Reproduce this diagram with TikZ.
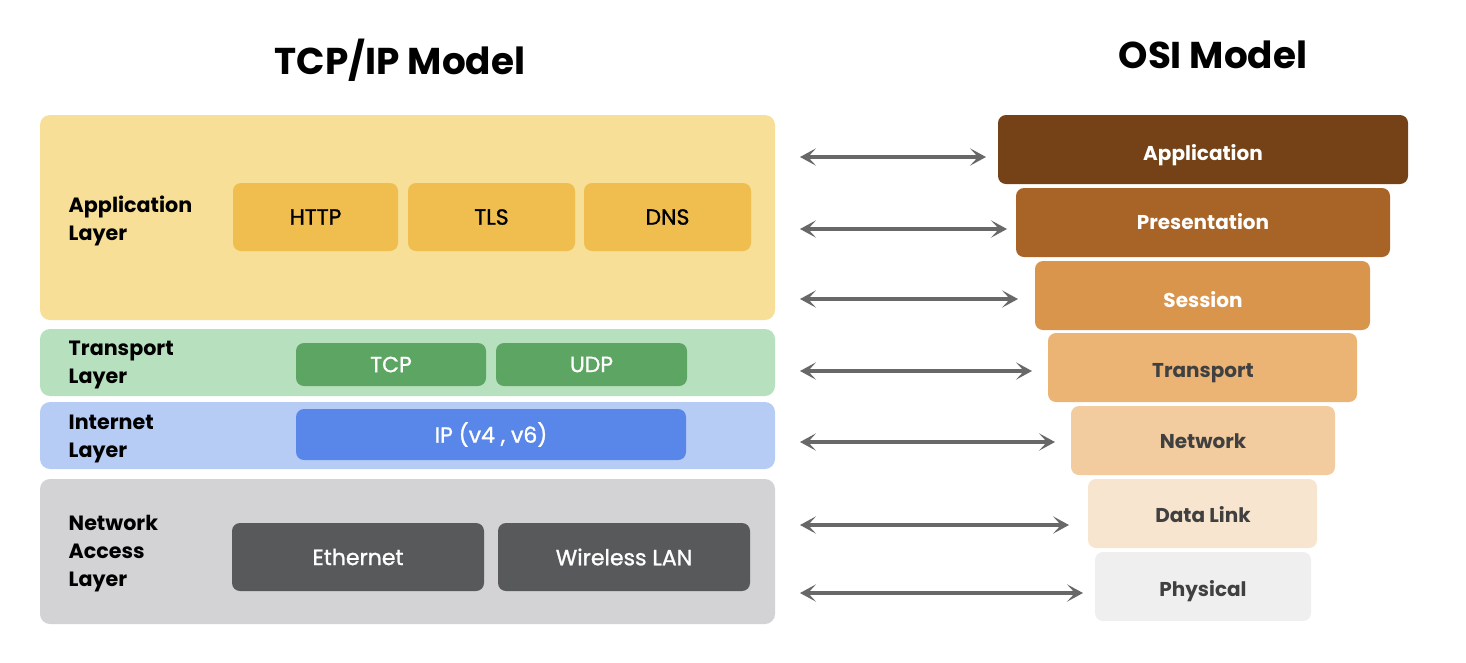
\documentclass[tikz,border=0pt]{standalone}
\usepackage{fontspec}
\setmainfont{Poppins}
\newfontfamily\medfont{Poppins}[FakeBold=1.2]
\usetikzlibrary{arrows.meta}
\definecolor{appbg}{HTML}{F7DF98}
\definecolor{appin}{HTML}{EFBE4F}
\definecolor{trbg}{HTML}{B7E1BE}
\definecolor{trin}{HTML}{5CA562}
\definecolor{inbg}{HTML}{B7CCF5}
\definecolor{inin}{HTML}{5987E9}
\definecolor{nabg}{HTML}{D3D3D5}
\definecolor{nain}{HTML}{58595B}
\definecolor{osiA}{HTML}{744216}
\definecolor{osiP}{HTML}{A86327}
\definecolor{osiS}{HTML}{DA954C}
\definecolor{osiT}{HTML}{EBB475}
\definecolor{osiN}{HTML}{F2CB9E}
\definecolor{osiD}{HTML}{F8E5CF}
\definecolor{osiPh}{HTML}{EFEFEF}
\definecolor{darktxt}{HTML}{404040}
\definecolor{arrowgray}{HTML}{686868}
\begin{document}
\begin{tikzpicture}[x=0.75pt,y=-0.75pt,
  layerbox/.style={rounded corners=7.5pt},
  inbox/.style={rounded corners=6pt},
  lbl/.style={anchor=west,align=left,font=\fontsize{15.5}{21}\selectfont\bfseries,text=black},
  intext/.style={font=\fontsize{16.5}{19}\medfont},
  ositext/.style={font=\fontsize{15}{18}\selectfont\bfseries},
  title/.style={font=\fontsize{28}{32}\selectfont\bfseries},
  link/.style={draw=arrowgray,line width=2.3pt,{Stealth[length=12pt,width=13pt,inset=6pt]}-{Stealth[length=12pt,width=13pt,inset=6pt]}}
]
\useasboundingbox (0,0) rectangle (1466,662);
% titles
\node[title] (t1) at (400,60) {TCP/IP Model};
\node[title] (t2) at (1213,55) {OSI Model};
% left layers
\fill[appbg,layerbox] (40,115) rectangle (775,320);
\fill[trbg,layerbox] (40,329) rectangle (775,396);
\fill[inbg,layerbox] (40,402) rectangle (775,469);
\fill[nabg,layerbox] (40,479) rectangle (775,624);
\node[lbl] (lapp) at (64,221) {Application\\Layer};
\node[lbl] (ltr) at (64,365) {Transport\\Layer};
\node[lbl] (lin) at (64,439) {Internet\\Layer};
\node[lbl] (lna) at (64,554) {Network\\Access\\Layer};
% inner boxes
\fill[appin,inbox] (233,183) rectangle (398,251);
\fill[appin,inbox] (408,183) rectangle (575,251);
\fill[appin,inbox] (584,183) rectangle (751,251);
\node[intext,text=black] (http) at (315.5,217) {HTTP};
\node[intext,text=black] (tls) at (491.5,217) {TLS};
\node[intext,text=black] (dns) at (667.5,217) {DNS};
\fill[trin,inbox] (296,343) rectangle (486,386);
\fill[trin,inbox] (496,343) rectangle (687,386);
\node[intext,text=white] (tcp) at (391,364.5) {TCP};
\node[intext,text=white] (udp) at (591.5,364.5) {UDP};
\fill[inin,inbox] (296,409) rectangle (686,460);
\node[intext,text=white] (ip) at (491,434.5) {IP (v4 , v6)};
\fill[nain,inbox] (232,523) rectangle (484,591);
\fill[nain,inbox] (498,523) rectangle (750,591);
\node[intext,text=white] (eth) at (358,557) {Ethernet};
\node[intext,text=white] (wlan) at (624,557) {Wireless LAN};
% OSI
\fill[osiA,inbox] (998,115) rectangle (1408,184);
\fill[osiP,inbox] (1016,188) rectangle (1390,257);
\fill[osiS,inbox] (1035,261) rectangle (1370,330);
\fill[osiT,inbox] (1048,333) rectangle (1357,402);
\fill[osiN,inbox] (1071,406) rectangle (1335,475);
\fill[osiD,inbox] (1088,479) rectangle (1317,548);
\fill[osiPh,inbox] (1095,552) rectangle (1311,621);
\node[ositext,text=white] (oA) at (1203,155) {Application};
\node[ositext,text=white] (oP) at (1203,222) {Presentation};
\node[ositext,text=white] (oS) at (1203,300) {Session};
\node[ositext,text=darktxt] (oT) at (1203,373) {Transport};
\node[ositext,text=darktxt] (oN) at (1203,441) {Network};
\node[ositext,text=darktxt] (oD) at (1203,515) {Data Link};
\node[ositext,text=darktxt] (oPh) at (1203,591) {Physical};
% arrows
\coordinate (a1) at (800,157); \coordinate (b1) at (986,157);
\coordinate (a2) at (800,229); \coordinate (b2) at (1007,229);
\coordinate (a3) at (800,299); \coordinate (b3) at (1018,299);
\coordinate (a4) at (800,371); \coordinate (b4) at (1032,371);
\coordinate (a5) at (800,442); \coordinate (b5) at (1055,442);
\coordinate (a6) at (800,525); \coordinate (b6) at (1069,525);
\coordinate (a7) at (800,593); \coordinate (b7) at (1083,593);
\foreach \i in {1,...,7} {\draw[link] (a\i) -- (b\i);}
\end{tikzpicture}
\end{document}
